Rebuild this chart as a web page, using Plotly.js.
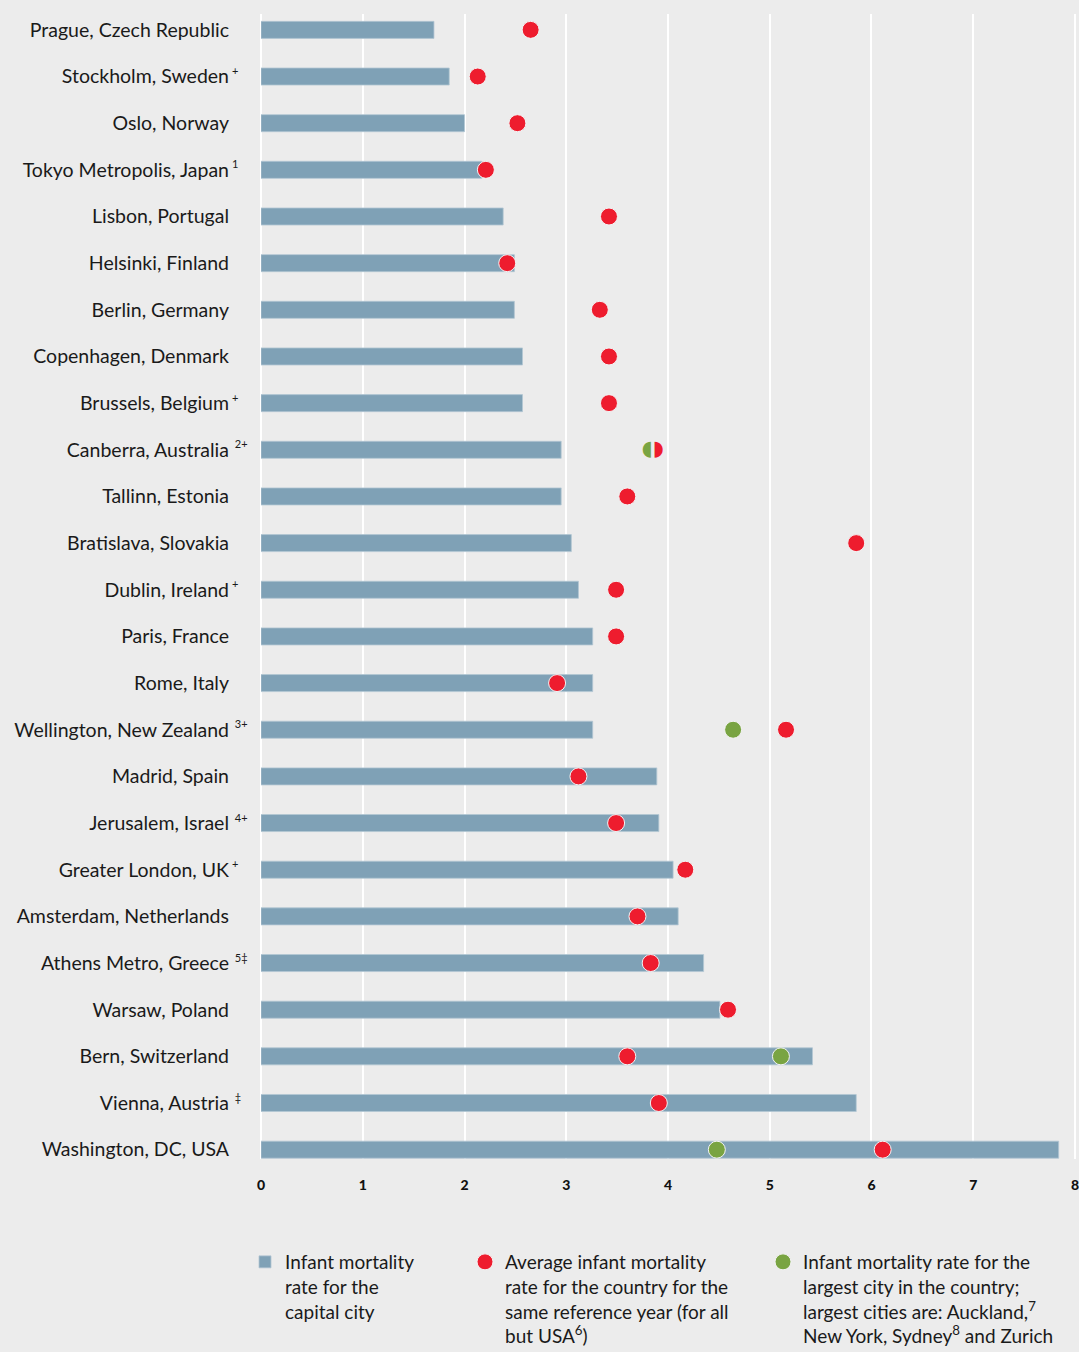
<!DOCTYPE html>
<html>
<head>
<meta charset="utf-8">
<script src="https://cdn.plot.ly/plotly-3.0.1.min.js"></script>
<style>
  html, body { margin: 0; padding: 0; background: #ececec; }
  #chart { width: 1079px; height: 1352px; }
</style>
</head>
<body>
<div id="chart"></div>
<script>
// ---- data ----
const cities = [
  "Prague, Czech Republic", "Stockholm, Sweden", "Oslo, Norway", "Tokyo Metropolis, Japan",
  "Lisbon, Portugal", "Helsinki, Finland", "Berlin, Germany", "Copenhagen, Denmark",
  "Brussels, Belgium", "Canberra, Australia", "Tallinn, Estonia", "Bratislava, Slovakia",
  "Dublin, Ireland", "Paris, France", "Rome, Italy", "Wellington, New Zealand",
  "Madrid, Spain", "Jerusalem, Israel", "Greater London, UK", "Amsterdam, Netherlands",
  "Athens Metro, Greece", "Warsaw, Poland", "Bern, Switzerland", "Vienna, Austria",
  "Washington, DC, USA"
];
const notes = [
  "", "+", "", "1", "", "", "", "", "+", " 2+", "", "", "+", "", "", " 3+",
  "", " 4+", "+", "", " 5‡", "", "", " ‡", ""
];
const capitalRate = [
  1.70, 1.85, 2.00, 2.17, 2.38, 2.49, 2.49, 2.57, 2.57, 2.95, 2.95, 3.05,
  3.12, 3.26, 3.26, 3.26, 3.89, 3.91, 4.05, 4.10, 4.35, 4.51, 5.42, 5.85, 7.84
];
const countryRate = [
  2.65, 2.13, 2.52, 2.21, 3.42, 2.42, 3.33, 3.42, 3.42, 3.85, 3.60, 5.85,
  3.49, 3.49, 2.91, 5.16, 3.12, 3.49, 4.17, 3.70, 3.83, 4.59, 3.60, 3.91, 6.11
];
const largestCityRate = [
  null, null, null, null, null, null, null, null, null, 3.85, null, null,
  null, null, null, 4.64, null, null, null, null, null, null, 5.11, null, 4.48
];
const xTicks = [0, 1, 2, 3, 4, 5, 6, 7, 8];
const legendNames = [
  "Infant mortality<br>rate for the<br>capital city",
  "Average infant mortality<br>rate for the country for the<br>same reference year (for all<br>but USA<sup>6</sup>)",
  "Infant mortality rate for the<br>largest city in the country;<br>largest cities are: Auckland,<sup>7</sup><br>New York, Sydney<sup>8</sup> and Zurich"
];

// ---- styles ----
const BAR = "#7fa1b6", RED = "#ee1c2e", GREEN = "#79a442", BG = "#ececec";
const FONT = "Lato, 'Open Sans', sans-serif";

// a city whose red and green values coincide is drawn as a split dot
const split = cities.map((c, i) => largestCityRate[i] !== null && Math.abs(largestCityRate[i] - countryRate[i]) < 0.05);

const traces = [
  {
    type: "bar", orientation: "h", y: cities, x: capitalRate, width: 0.365,
    marker: { color: BAR, line: { color: "#b3c7d3", width: 0.8 } },
    name: legendNames[0], legend: "legend", hoverinfo: "x+y"
  },
  {
    type: "scatter", mode: "markers", y: cities,
    x: countryRate.map((v, i) => split[i] ? null : v),
    marker: { color: RED, size: 17, line: { color: "#f4f4f4", width: 1 } },
    name: legendNames[1], legend: "legend2", cliponaxis: false
  },
  {
    type: "scatter", mode: "markers", y: cities,
    x: largestCityRate.map((v, i) => split[i] ? null : v),
    marker: { color: GREEN, size: 17, line: { color: "#f4f4f4", width: 1 } },
    name: legendNames[2], legend: "legend3", cliponaxis: false
  }
];
// split dots: left half green, right half red
const splitIdx = cities.map((c, i) => i).filter(i => split[i]);
splitIdx.forEach(i => {
  traces.push({
    type: "scatter", mode: "text", showlegend: false, hoverinfo: "skip",
    y: [cities[i]], x: [largestCityRate[i]],
    text: ["\u25D6"], textposition: "middle left",
    textfont: { family: "DejaVu Sans", size: 21, color: GREEN },
    cliponaxis: false
  });
  traces.push({
    type: "scatter", mode: "text", showlegend: false, hoverinfo: "skip",
    y: [cities[i]], x: [countryRate[i]],
    text: ["\u25D7"], textposition: "middle right",
    textfont: { family: "DejaVu Sans", size: 21, color: RED },
    cliponaxis: false
  });
});

const annotations = cities.map((c, i) => ({
  xref: "paper", yref: "y", x: -0.0375, y: c, xanchor: "left", yanchor: "middle",
  text: notes[i], showarrow: false, yshift: 6,
  font: { family: FONT, size: 11, color: "#1a1a1a" }
})).filter((a, i) => notes[i] !== "");

const legendBase = {
  orientation: "v", xref: "container", yref: "container", yanchor: "top", xanchor: "left",
  valign: "top", bgcolor: "rgba(0,0,0,0)", borderwidth: 0,
  font: { family: FONT, size: 19, color: "#1a1a1a" }, itemclick: false, itemdoubleclick: false
};

const layout = {
  width: 1079, height: 1352,
  paper_bgcolor: BG, plot_bgcolor: BG,
  margin: { l: 261, r: 3, t: 14, b: 193, autoexpand: false },
  font: { family: FONT, color: "#1a1a1a" },
  showlegend: true,
  legend: Object.assign({}, legendBase, { x: 245 / 1079, y: 1 - 1243 / 1352 }),
  legend2: Object.assign({}, legendBase, { x: 465 / 1079, y: 1 - 1243 / 1352 }),
  legend3: Object.assign({}, legendBase, { x: 763 / 1079, y: 1 - 1243 / 1352 }),
  xaxis: {
    range: [0, 8.01], tickvals: xTicks, ticktext: xTicks.map(String),
    showgrid: true, gridcolor: "#ffffff", gridwidth: 2,
    zeroline: true, zerolinecolor: "#ffffff", zerolinewidth: 2,
    showline: false, ticks: "", ticklabelstandoff: 16, ticklabeloverflow: "allow",
    tickfont: { family: FONT, size: 14, color: "#111", weight: 900 },
    fixedrange: true, automargin: false
  },
  yaxis: {
    type: "category", categoryorder: "array", categoryarray: cities,
    range: [24.2, -0.34], showgrid: false, zeroline: false, showline: false,
    ticks: "", ticklabelstandoff: 31,
    tickfont: { family: FONT, size: 19.5, color: "#1a1a1a" },
    fixedrange: true, automargin: false
  },
  bargap: 0.6,
  annotations: annotations
};

Plotly.newPlot("chart", traces, layout, { displayModeBar: false, staticPlot: true });
</script>
</body>
</html>
